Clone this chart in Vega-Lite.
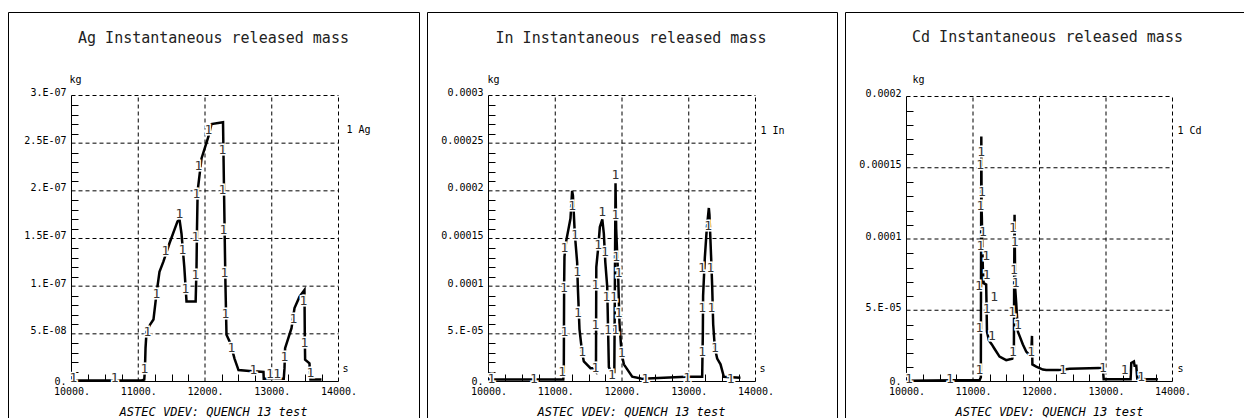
{
  "$schema": "https://vega.github.io/schema/vega-lite/v6.json",
  "background": "white",
  "padding": {"left": 7, "top": 11, "right": 0, "bottom": 0},
  "spacing": 6,
  "config": {
    "view": {"stroke": "black", "strokeWidth": 1},
    "font": "DejaVu Sans Mono",
    "axis": {
      "domain": false, "grid": false,
      "tickColor": "black", "tickWidth": 1, "tickSize": -7,
      "labelFont": "DejaVu Sans Mono", "labelFontSize": 10, "labelColor": "black",
      "labelPadding": 12, "labelOverlap": false, "labelFlush": false, "labelBound": false,
      "titleFont": "DejaVu Sans Mono", "titleColor": "black", "titleFontWeight": "normal"
    },
    "title": {"font": "DejaVu Sans Mono", "fontSize": 15, "fontWeight": "normal", "color": "#222", "anchor": "middle", "frame": "group", "baseline": "alphabetic", "offset": -34}
  },
  "datasets": {
    "xg": [{"g": 11000}, {"g": 12000}, {"g": 13000}, {"g": 14000}],
    "agyg": [{"g": 5e-8}, {"g": 1e-7}, {"g": 1.5e-7}, {"g": 2e-7}, {"g": 2.5e-7}, {"g": 3e-7}],
    "inyg": [{"g": 5e-5}, {"g": 1e-4}, {"g": 1.5e-4}, {"g": 2e-4}, {"g": 2.5e-4}, {"g": 3e-4}],
    "cdyg": [{"g": 5e-5}, {"g": 1e-4}, {"g": 1.5e-4}, {"g": 2e-4}],
    "ag": [
      {"t":10000,"v":1e-9},{"t":10500,"v":1e-9},{"t":11050,"v":1e-9},{"t":11090,"v":2e-9},{"t":11100,"v":1.2e-8},{"t":11109,"v":3.5e-8},{"t":11124,"v":5.2e-8},{"t":11180,"v":6.0e-8},{"t":11228,"v":6.5e-8},{"t":11273,"v":9.2e-8},{"t":11318,"v":1.15e-7},{"t":11378,"v":1.26e-7},{"t":11468,"v":1.45e-7},{"t":11588,"v":1.68e-7},{"t":11618,"v":1.70e-7},{"t":11648,"v":1.55e-7},{"t":11690,"v":1.20e-7},{"t":11723,"v":8.4e-8},{"t":11860,"v":8.4e-8},{"t":11873,"v":1.2e-7},{"t":11880,"v":1.6e-7},{"t":11890,"v":2.0e-7},{"t":11948,"v":2.34e-7},{"t":12052,"v":2.57e-7},{"t":12097,"v":2.70e-7},{"t":12270,"v":2.72e-7},{"t":12285,"v":2.0e-7},{"t":12300,"v":1.3e-7},{"t":12307,"v":1.0e-7},{"t":12322,"v":4.9e-8},{"t":12382,"v":4.0e-8},{"t":12442,"v":2.4e-8},{"t":12502,"v":1.2e-8},{"t":12666,"v":1.1e-8},{"t":12876,"v":1.0e-8},{"t":12880,"v":3e-9},{"t":13180,"v":3e-9},{"t":13191,"v":1.4e-8},{"t":13200,"v":3.5e-8},{"t":13296,"v":5.6e-8},{"t":13341,"v":7.7e-8},{"t":13416,"v":8.9e-8},{"t":13490,"v":9.6e-8},{"t":13495,"v":5.0e-8},{"t":13500,"v":2.3e-8},{"t":13565,"v":1.9e-8},{"t":13580,"v":2e-9},{"t":13745,"v":2e-9}
    ],
    "agm": [
      {"t":10030,"v":4e-9},{"t":10645,"v":4e-9},{"t":11094,"v":1.3e-8},{"t":11139,"v":5.2e-8},{"t":11273,"v":9.2e-8},{"t":11408,"v":1.37e-7},{"t":11618,"v":1.76e-7},{"t":11663,"v":1.38e-7},{"t":11708,"v":9.7e-8},{"t":11858,"v":1.12e-7},{"t":11858,"v":1.52e-7},{"t":11873,"v":1.97e-7},{"t":11903,"v":2.26e-7},{"t":12052,"v":2.64e-7},{"t":12262,"v":2.43e-7},{"t":12262,"v":2.01e-7},{"t":12277,"v":1.59e-7},{"t":12292,"v":1.14e-7},{"t":12307,"v":7.1e-8},{"t":12397,"v":3.5e-8},{"t":12726,"v":1.2e-8},{"t":12971,"v":8e-9},{"t":13081,"v":8e-9},{"t":13191,"v":2.6e-8},{"t":13326,"v":6.6e-8},{"t":13475,"v":8.4e-8},{"t":13490,"v":4.0e-8},{"t":13580,"v":9e-9}
    ],
    "in": [
      {"t":10000,"v":2e-6},{"t":11120,"v":2e-6},{"t":11128,"v":1e-5},{"t":11133,"v":1.0e-4},{"t":11138,"v":1.31e-4},{"t":11163,"v":1.47e-4},{"t":11228,"v":1.71e-4},{"t":11253,"v":2.0e-4},{"t":11265,"v":1.95e-4},{"t":11293,"v":1.55e-4},{"t":11328,"v":1.25e-4},{"t":11338,"v":1.0e-4},{"t":11363,"v":5.5e-5},{"t":11403,"v":3.0e-5},{"t":11428,"v":2.1e-5},{"t":11528,"v":1.4e-5},{"t":11553,"v":1.4e-5},{"t":11610,"v":1.0e-5},{"t":11615,"v":1.2e-4},{"t":11643,"v":1.4e-4},{"t":11668,"v":1.62e-4},{"t":11705,"v":1.7e-4},{"t":11728,"v":1.55e-4},{"t":11750,"v":1.25e-4},{"t":11778,"v":1.0e-4},{"t":11790,"v":6e-5},{"t":11803,"v":1.5e-5},{"t":11840,"v":1.0e-5},{"t":11885,"v":1.0e-5},{"t":11895,"v":1.2e-4},{"t":11903,"v":2.08e-4},{"t":11913,"v":1.6e-4},{"t":11930,"v":1.3e-4},{"t":11943,"v":1.1e-4},{"t":11963,"v":6e-5},{"t":11993,"v":3.0e-5},{"t":12028,"v":1.8e-5},{"t":12153,"v":5e-6},{"t":12302,"v":3e-6},{"t":12951,"v":5e-6},{"t":13051,"v":5e-6},{"t":13201,"v":5e-6},{"t":13211,"v":5e-5},{"t":13215,"v":9e-5},{"t":13241,"v":1.3e-4},{"t":13270,"v":1.6e-4},{"t":13301,"v":1.82e-4},{"t":13310,"v":1.75e-4},{"t":13341,"v":1.2e-4},{"t":13351,"v":1.0e-4},{"t":13366,"v":6e-5},{"t":13391,"v":3.5e-5},{"t":13426,"v":2.4e-5},{"t":13476,"v":1.8e-5},{"t":13526,"v":5e-6},{"t":13775,"v":4e-6}
    ],
    "inm": [
      {"t":10045,"v":3e-6},{"t":10680,"v":3e-6},{"t":11103,"v":1.0e-5},{"t":11138,"v":5.2e-5},{"t":11128,"v":9.8e-5},{"t":11138,"v":1.40e-4},{"t":11253,"v":1.84e-4},{"t":11293,"v":1.54e-4},{"t":11328,"v":1.15e-4},{"t":11338,"v":7.2e-5},{"t":11403,"v":3.1e-5},{"t":11603,"v":1.4e-5},{"t":11603,"v":5.9e-5},{"t":11603,"v":1.01e-4},{"t":11643,"v":1.43e-4},{"t":11703,"v":1.78e-4},{"t":11743,"v":1.36e-4},{"t":11768,"v":8.9e-5},{"t":11880,"v":8.9e-5},{"t":11790,"v":5.4e-5},{"t":11902,"v":5.4e-5},{"t":11850,"v":7e-6},{"t":11903,"v":2.17e-4},{"t":11903,"v":1.75e-4},{"t":11913,"v":1.31e-4},{"t":11950,"v":1.14e-4},{"t":11950,"v":7.2e-5},{"t":11993,"v":3.0e-5},{"t":12352,"v":3e-6},{"t":12976,"v":4e-6},{"t":13201,"v":3.1e-5},{"t":13201,"v":7.7e-5},{"t":13196,"v":1.19e-4},{"t":13326,"v":1.19e-4},{"t":13291,"v":1.63e-4},{"t":13341,"v":7.7e-5},{"t":13391,"v":3.5e-5},{"t":13626,"v":3e-6}
    ],
    "cd": [
      {"t":10000,"v":5e-7},{"t":11100,"v":1e-6},{"t":11118,"v":3e-6},{"t":11120,"v":6e-5},{"t":11123,"v":1.2e-4},{"t":11125,"v":1.72e-4},{"t":11130,"v":1.2e-4},{"t":11133,"v":1.15e-4},{"t":11140,"v":9.5e-5},{"t":11148,"v":8e-5},{"t":11160,"v":6.9e-5},{"t":11198,"v":6.8e-5},{"t":11205,"v":5e-5},{"t":11210,"v":3.5e-5},{"t":11238,"v":2.9e-5},{"t":11283,"v":2.6e-5},{"t":11323,"v":2.3e-5},{"t":11399,"v":1.75e-5},{"t":11499,"v":1.5e-5},{"t":11590,"v":1.6e-5},{"t":11615,"v":2.2e-5},{"t":11620,"v":8e-5},{"t":11625,"v":1.17e-4},{"t":11630,"v":9e-5},{"t":11635,"v":6.5e-5},{"t":11650,"v":5.5e-5},{"t":11675,"v":3.5e-5},{"t":11700,"v":3.2e-5},{"t":11750,"v":2.6e-5},{"t":11800,"v":2.1e-5},{"t":11840,"v":1.9e-5},{"t":11875,"v":1.9e-5},{"t":11887,"v":3.2e-5},{"t":11893,"v":1.2e-5},{"t":11951,"v":1.05e-5},{"t":12051,"v":8.4e-6},{"t":12101,"v":8e-6},{"t":12302,"v":8e-6},{"t":12452,"v":9e-6},{"t":12903,"v":9.5e-6},{"t":12953,"v":9.5e-6},{"t":12965,"v":1.5e-6},{"t":13370,"v":1.5e-6},{"t":13380,"v":1.3e-5},{"t":13420,"v":1.4e-5},{"t":13430,"v":1.1e-5},{"t":13455,"v":1.1e-5},{"t":13470,"v":2e-6},{"t":13605,"v":1.5e-6},{"t":13780,"v":1.5e-6}
    ],
    "cdm": [
      {"t":10035,"v":1.9e-6},{"t":10652,"v":1.9e-6},{"t":11098,"v":8.2e-6},{"t":11098,"v":3.74e-5},{"t":11090,"v":6.67e-5},{"t":11320,"v":5.96e-5},{"t":11205,"v":5.1e-5},{"t":11283,"v":3.16e-5},{"t":11123,"v":1.61e-4},{"t":11108,"v":1.52e-4},{"t":11133,"v":1.33e-4},{"t":11113,"v":1.23e-4},{"t":11148,"v":1.05e-4},{"t":11113,"v":9.5e-5},{"t":11198,"v":8.8e-5},{"t":11205,"v":7.5e-5},{"t":11600,"v":1.08e-4},{"t":11625,"v":9.8e-5},{"t":11615,"v":7.8e-5},{"t":11640,"v":6.9e-5},{"t":11590,"v":4.9e-5},{"t":11675,"v":4.0e-5},{"t":11600,"v":2.1e-5},{"t":11875,"v":2.1e-5},{"t":12352,"v":8.2e-6},{"t":12953,"v":9.3e-6},{"t":13279,"v":8.2e-6},{"t":13530,"v":3.5e-6}
    ]
  },
  "hconcat": [
    {
      "width": 411, "height": 408,
      "title": {"text": "Ag Instantaneous released mass"},
      "layer": [
        {"data": {"name": "xg"}, "mark": {"type": "rule", "color": "black", "strokeWidth": 1, "strokeDash": [4, 3]},
          "encoding": {"x": {"field": "g", "type": "quantitative"}, "y": {"datum": 0, "type": "quantitative"}, "y2": {"datum": 3e-7}}},
        {"data": {"name": "agyg"}, "mark": {"type": "rule", "color": "black", "strokeWidth": 1, "strokeDash": [4, 3]},
          "encoding": {"y": {"field": "g", "type": "quantitative"}, "x": {"datum": 10000, "type": "quantitative"}, "x2": {"datum": 14000}}},
        {"data": {"values": [{}]}, "mark": {"type": "rule", "color": "black", "strokeWidth": 1},
          "encoding": {"x": {"datum": 10000, "type": "quantitative"}, "y": {"datum": 0, "type": "quantitative"}, "y2": {"datum": 3e-7}}},
        {"data": {"values": [{}]}, "mark": {"type": "rule", "color": "black", "strokeWidth": 1},
          "encoding": {"y": {"datum": 0, "type": "quantitative"}, "x": {"datum": 10000, "type": "quantitative"}, "x2": {"datum": 14000}}},
        {"data": {"name": "ag"}, "mark": {"type": "line", "color": "black", "strokeWidth": 2.5},
          "encoding": {
            "x": {"field": "t", "type": "quantitative", "scale": {"domain": [10000, 14000], "range": [63.5, 330.5], "nice": false, "zero": false},
              "axis": {"orient": "bottom", "offset": -39, "labelOverlap": false, "tickCount": 1000,
                "values": [10000,10250,10500,10750,11000,11250,11500,11750,12000,12250,12500,12750,13000,13250,13500,13750,14000],
                "labelExpr": "datum.value % 1000 == 0 ? format(datum.value, 'd') + '.' : ''",
                "labelDx": 3,
                "tickOpacity": {"condition": {"test": "datum.value % 1000 == 0", "value": 0}, "value": 1},
                "title": "ASTEC VDEV: QUENCH 13 test", "titleFontStyle": "italic", "titleFontSize": 12, "titleX": 205, "titleY": 34, "titleBaseline": "alphabetic", "titleAlign": "center"}},
            "y": {"field": "v", "type": "quantitative", "scale": {"domain": [0, 3e-7], "range": [369.5, 83.5], "nice": false, "zero": false},
              "axis": {"orient": "left", "offset": -63, "labelOverlap": false, "tickCount": 1000,
                "values": [0,1e-8,2e-8,3e-8,4e-8,5e-8,6e-8,7e-8,8e-8,9e-8,1e-7,1.1e-7,1.2e-7,1.3e-7,1.4e-7,1.5e-7,1.6e-7,1.7e-7,1.8e-7,1.9e-7,2e-7,2.1e-7,2.2e-7,2.3e-7,2.4e-7,2.5e-7,2.6e-7,2.7e-7,2.8e-7,2.9e-7,3e-7],
                "labelExpr": "round(datum.value*1e8)==30 ? '3.E-07' : round(datum.value*1e8)==25 ? '2.5E-07' : round(datum.value*1e8)==20 ? '2.E-07' : round(datum.value*1e8)==15 ? '1.5E-07' : round(datum.value*1e8)==10 ? '1.E-07' : round(datum.value*1e8)==5 ? '5.E-08' : round(datum.value*1e8)==0 ? '0.' : ''",
                "labelBaseline": {"condition": {"test": "datum.value == 0", "value": "middle"}, "value": "alphabetic"},
                "tickOpacity": {"condition": {"test": "round(datum.value*1e8) % 5 == 0", "value": 0}, "value": 1},
                "title": "kg", "titleAngle": 0, "titleX": -2, "titleY": 70, "titleAlign": "left", "titleBaseline": "alphabetic", "titleFontSize": 10}}
          }},
        {"data": {"name": "agm"}, "mark": {"type": "text", "text": "1", "font": "DejaVu Sans Mono", "fontSize": 13, "fill": "white", "stroke": "white", "strokeWidth": 3, "align": "center", "baseline": "middle"},
          "encoding": {"x": {"field": "t", "type": "quantitative"}, "y": {"field": "v", "type": "quantitative"}}},
        {"data": {"name": "agm"}, "mark": {"type": "text", "text": "1", "font": "DejaVu Sans Mono", "fontSize": 13, "fill": "#333", "opacity": 0.99, "align": "center", "baseline": "middle"},
          "encoding": {"x": {"field": "t", "type": "quantitative"}, "y": {"field": "v", "type": "quantitative"}}},
        {"data": {"values": [{"label": "1 Ag"}]}, "mark": {"type": "text", "fontSize": 10, "align": "left", "baseline": "middle", "dx": 8, "dy": 34, "fill": "black"},
          "encoding": {"x": {"datum": 14000, "type": "quantitative"}, "y": {"datum": 3e-7, "type": "quantitative"}, "text": {"field": "label"}}},
        {"data": {"values": [{"label": "s"}]}, "mark": {"type": "text", "fontSize": 10, "align": "left", "baseline": "middle", "dx": 4, "dy": -13, "fill": "black"},
          "encoding": {"x": {"datum": 14000, "type": "quantitative"}, "y": {"datum": 0, "type": "quantitative"}, "text": {"field": "label"}}}
      ]
    },
    {
      "width": 410, "height": 408,
      "title": {"text": "In Instantaneous released mass", "dx": -1},
      "layer": [
        {"data": {"name": "xg"}, "mark": {"type": "rule", "color": "black", "strokeWidth": 1, "strokeDash": [4, 3]},
          "encoding": {"x": {"field": "g", "type": "quantitative"}, "y": {"datum": 0, "type": "quantitative"}, "y2": {"datum": 3e-4}}},
        {"data": {"name": "inyg"}, "mark": {"type": "rule", "color": "black", "strokeWidth": 1, "strokeDash": [4, 3]},
          "encoding": {"y": {"field": "g", "type": "quantitative"}, "x": {"datum": 10000, "type": "quantitative"}, "x2": {"datum": 14000}}},
        {"data": {"values": [{}]}, "mark": {"type": "rule", "color": "black", "strokeWidth": 1},
          "encoding": {"x": {"datum": 10000, "type": "quantitative"}, "y": {"datum": 0, "type": "quantitative"}, "y2": {"datum": 3e-4}}},
        {"data": {"values": [{}]}, "mark": {"type": "rule", "color": "black", "strokeWidth": 1},
          "encoding": {"y": {"datum": 0, "type": "quantitative"}, "x": {"datum": 10000, "type": "quantitative"}, "x2": {"datum": 14000}}},
        {"data": {"name": "in"}, "mark": {"type": "line", "color": "black", "strokeWidth": 2.5},
          "encoding": {
            "x": {"field": "t", "type": "quantitative", "scale": {"domain": [10000, 14000], "range": [61.5, 328.5], "nice": false, "zero": false},
              "axis": {"orient": "bottom", "offset": -39, "labelOverlap": false, "tickCount": 1000,
                "values": [10000,10250,10500,10750,11000,11250,11500,11750,12000,12250,12500,12750,13000,13250,13500,13750,14000],
                "labelExpr": "datum.value % 1000 == 0 ? format(datum.value, 'd') + '.' : ''",
                "labelDx": 3,
                "tickOpacity": {"condition": {"test": "datum.value % 1000 == 0", "value": 0}, "value": 1},
                "title": "ASTEC VDEV: QUENCH 13 test", "titleFontStyle": "italic", "titleFontSize": 12, "titleX": 204, "titleY": 34, "titleBaseline": "alphabetic", "titleAlign": "center"}},
            "y": {"field": "v", "type": "quantitative", "scale": {"domain": [0, 3e-4], "range": [369.5, 83.5], "nice": false, "zero": false},
              "axis": {"orient": "left", "offset": -61, "labelOverlap": false, "tickCount": 1000,
                "values": [0,1e-5,2e-5,3e-5,4e-5,5e-5,6e-5,7e-5,8e-5,9e-5,1e-4,1.1e-4,1.2e-4,1.3e-4,1.4e-4,1.5e-4,1.6e-4,1.7e-4,1.8e-4,1.9e-4,2e-4,2.1e-4,2.2e-4,2.3e-4,2.4e-4,2.5e-4,2.6e-4,2.7e-4,2.8e-4,2.9e-4,3e-4],
                "labelExpr": "round(datum.value*1e5)==30 ? '0.0003' : round(datum.value*1e5)==25 ? '0.00025' : round(datum.value*1e5)==20 ? '0.0002' : round(datum.value*1e5)==15 ? '0.00015' : round(datum.value*1e5)==10 ? '0.0001' : round(datum.value*1e5)==5 ? '5.E-05' : round(datum.value*1e5)==0 ? '0.' : ''",
                "labelBaseline": {"condition": {"test": "datum.value == 0", "value": "middle"}, "value": "alphabetic"},
                "tickOpacity": {"condition": {"test": "round(datum.value*1e5) % 5 == 0", "value": 0}, "value": 1},
                "title": "kg", "titleAngle": 0, "titleX": -1, "titleY": 70, "titleAlign": "left", "titleBaseline": "alphabetic", "titleFontSize": 10}}
          }},
        {"data": {"name": "inm"}, "mark": {"type": "text", "text": "1", "font": "DejaVu Sans Mono", "fontSize": 13, "fill": "white", "stroke": "white", "strokeWidth": 3, "align": "center", "baseline": "middle"},
          "encoding": {"x": {"field": "t", "type": "quantitative"}, "y": {"field": "v", "type": "quantitative"}}},
        {"data": {"name": "inm"}, "mark": {"type": "text", "text": "1", "font": "DejaVu Sans Mono", "fontSize": 13, "fill": "#333", "opacity": 0.99, "align": "center", "baseline": "middle"},
          "encoding": {"x": {"field": "t", "type": "quantitative"}, "y": {"field": "v", "type": "quantitative"}}},
        {"data": {"values": [{"label": "1 In"}]}, "mark": {"type": "text", "fontSize": 10, "align": "left", "baseline": "middle", "dx": 5, "dy": 35, "fill": "black"},
          "encoding": {"x": {"datum": 14000, "type": "quantitative"}, "y": {"datum": 3e-4, "type": "quantitative"}, "text": {"field": "label"}}},
        {"data": {"values": [{"label": "s"}]}, "mark": {"type": "text", "fontSize": 10, "align": "left", "baseline": "middle", "dx": 4, "dy": -13, "fill": "black"},
          "encoding": {"x": {"datum": 14000, "type": "quantitative"}, "y": {"datum": 0, "type": "quantitative"}, "text": {"field": "label"}}}
      ]
    },
    {
      "width": 411, "height": 408,
      "title": {"text": "Cd Instantaneous released mass", "dx": -3, "offset": -33},
      "layer": [
        {"data": {"name": "xg"}, "mark": {"type": "rule", "color": "black", "strokeWidth": 1, "strokeDash": [4, 3]},
          "encoding": {"x": {"field": "g", "type": "quantitative"}, "y": {"datum": 0, "type": "quantitative"}, "y2": {"datum": 2e-4}}},
        {"data": {"name": "cdyg"}, "mark": {"type": "rule", "color": "black", "strokeWidth": 1, "strokeDash": [4, 3]},
          "encoding": {"y": {"field": "g", "type": "quantitative"}, "x": {"datum": 10000, "type": "quantitative"}, "x2": {"datum": 14000}}},
        {"data": {"values": [{}]}, "mark": {"type": "rule", "color": "black", "strokeWidth": 1},
          "encoding": {"x": {"datum": 10000, "type": "quantitative"}, "y": {"datum": 0, "type": "quantitative"}, "y2": {"datum": 2e-4}}},
        {"data": {"values": [{}]}, "mark": {"type": "rule", "color": "black", "strokeWidth": 1},
          "encoding": {"y": {"datum": 0, "type": "quantitative"}, "x": {"datum": 10000, "type": "quantitative"}, "x2": {"datum": 14000}}},
        {"data": {"name": "cd"}, "mark": {"type": "line", "color": "black", "strokeWidth": 2.5},
          "encoding": {
            "x": {"field": "t", "type": "quantitative", "scale": {"domain": [10000, 14000], "range": [61.5, 327.5], "nice": false, "zero": false},
              "axis": {"orient": "bottom", "offset": -39, "labelOverlap": false, "tickCount": 1000,
                "values": [10000,10250,10500,10750,11000,11250,11500,11750,12000,12250,12500,12750,13000,13250,13500,13750,14000],
                "labelExpr": "datum.value % 1000 == 0 ? format(datum.value, 'd') + '.' : ''",
                "labelDx": 3,
                "tickOpacity": {"condition": {"test": "datum.value % 1000 == 0", "value": 0}, "value": 1},
                "title": "ASTEC VDEV: QUENCH 13 test", "titleFontStyle": "italic", "titleFontSize": 12, "titleX": 204, "titleY": 34, "titleBaseline": "alphabetic", "titleAlign": "center"}},
            "y": {"field": "v", "type": "quantitative", "scale": {"domain": [0, 2e-4], "range": [369.5, 84.5], "nice": false, "zero": false},
              "axis": {"orient": "left", "offset": -61, "labelOverlap": false, "tickCount": 1000,
                "values": [0,1e-5,2e-5,3e-5,4e-5,5e-5,6e-5,7e-5,8e-5,9e-5,1e-4,1.1e-4,1.2e-4,1.3e-4,1.4e-4,1.5e-4,1.6e-4,1.7e-4,1.8e-4,1.9e-4,2e-4],
                "labelExpr": "round(datum.value*1e5)==20 ? '0.0002' : round(datum.value*1e5)==15 ? '0.00015' : round(datum.value*1e5)==10 ? '0.0001' : round(datum.value*1e5)==5 ? '5.E-05' : round(datum.value*1e5)==0 ? '0.' : ''",
                "labelBaseline": {"condition": {"test": "datum.value == 0", "value": "middle"}, "value": "alphabetic"},
                "tickOpacity": {"condition": {"test": "round(datum.value*1e5) % 5 == 0", "value": 0}, "value": 1},
                "title": "kg", "titleAngle": 0, "titleX": 6, "titleY": 70, "titleAlign": "left", "titleBaseline": "alphabetic", "titleFontSize": 10}}
          }},
        {"data": {"name": "cdm"}, "mark": {"type": "text", "text": "1", "font": "DejaVu Sans Mono", "fontSize": 13, "fill": "white", "stroke": "white", "strokeWidth": 3, "align": "center", "baseline": "middle"},
          "encoding": {"x": {"field": "t", "type": "quantitative"}, "y": {"field": "v", "type": "quantitative"}}},
        {"data": {"name": "cdm"}, "mark": {"type": "text", "text": "1", "font": "DejaVu Sans Mono", "fontSize": 13, "fill": "#333", "opacity": 0.99, "align": "center", "baseline": "middle"},
          "encoding": {"x": {"field": "t", "type": "quantitative"}, "y": {"field": "v", "type": "quantitative"}}},
        {"data": {"values": [{"label": "1 Cd"}]}, "mark": {"type": "text", "fontSize": 10, "align": "left", "baseline": "middle", "dx": 5, "dy": 34, "fill": "black"},
          "encoding": {"x": {"datum": 14000, "type": "quantitative"}, "y": {"datum": 2e-4, "type": "quantitative"}, "text": {"field": "label"}}},
        {"data": {"values": [{"label": "s"}]}, "mark": {"type": "text", "fontSize": 10, "align": "left", "baseline": "middle", "dx": 5, "dy": -13, "fill": "black"},
          "encoding": {"x": {"datum": 14000, "type": "quantitative"}, "y": {"datum": 0, "type": "quantitative"}, "text": {"field": "label"}}}
      ]
    }
  ]
}
